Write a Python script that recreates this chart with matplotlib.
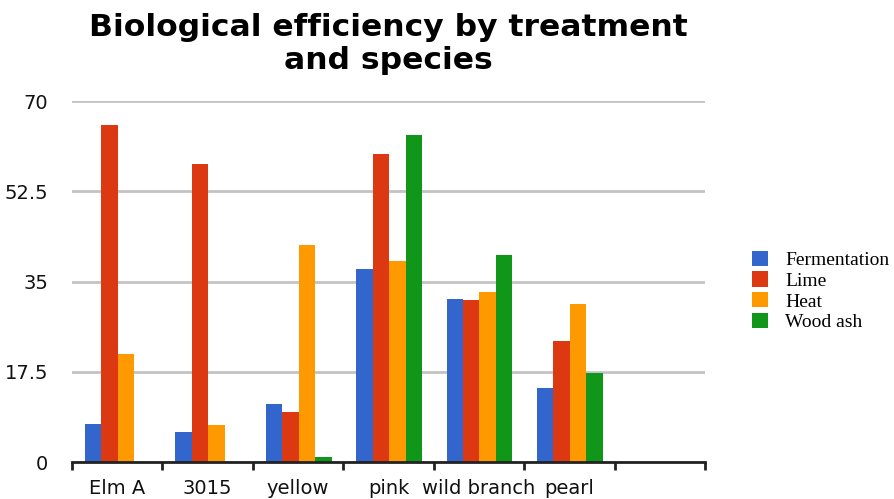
import matplotlib
matplotlib.use("Agg")
import matplotlib.pyplot as plt
import numpy as np
from matplotlib.patches import Patch

categories = ["Elm A", "3015", "yellow", "pink", "wild branch", "pearl", ""]
series_names = ["Fermentation", "Lime", "Heat", "Wood ash"]
fermentation = [7.3, 5.8, 11.3, 37.5, 31.7, 14.4]
lime = [65.4, 57.8, 9.7, 59.8, 31.5, 23.4]
heat = [20.9, 7.1, 42.1, 38.9, 32.9, 30.7]
wood_ash = [0.0, 0.0, 1.0, 63.5, 40.2, 17.2]
yticks = [0, 17.5, 35, 52.5, 70]
ytick_labels = ["0", "17.5", "35", "52.5", "70"]
colors = ["#3366CC", "#DC3912", "#FF9900", "#109618"]

fig = plt.figure(figsize=(8.95, 4.99), dpi=100)
ax = fig.add_axes([72/895, (499-462)/499, (705-72)/895, (462-101)/499])

values = [fermentation, lime, heat, wood_ash]
n = len(categories)
bw = 0.182
start = 0.142
idx = np.arange(len(fermentation))
for j, (vals, c) in enumerate(zip(values, colors)):
    ax.bar(idx + start + j*bw, vals, width=bw, align="edge", color=c,
           linewidth=0, zorder=3)

ax.set_xlim(0, n)
ax.set_ylim(0, 70)
ax.set_yticks(yticks)
ax.set_yticklabels(ytick_labels)
ax.yaxis.grid(True, color="#c3c3c3", linewidth=2, zorder=0)
ax.tick_params(axis="y", length=0, pad=17, labelsize=14, labelcolor="#111111")

ax.set_xticks(np.arange(n + 1))
ax.set_xticklabels([])
ax.set_xticks(np.arange(n) + 0.5, minor=True)
ax.set_xticklabels(categories, minor=True)
ax.tick_params(axis="x", which="major", length=6, width=2, color="#222222", direction="out")
ax.tick_params(axis="x", which="minor", length=0, pad=12, labelsize=14, labelcolor="#111111")

for s in ["left", "right", "top"]:
    ax.spines[s].set_visible(False)
ax.spines["bottom"].set_linewidth(2)
ax.spines["bottom"].set_color("#222222")
ax.spines["bottom"].set_zorder(4)

fig.text((72+705)/2/895, 1 - 44/499, "Biological efficiency by treatment\nand species",
         ha="center", va="center", fontsize=22.6, fontweight="bold",
         linespacing=1.16, family="DejaVu Sans")

handles = [Patch(facecolor=c, edgecolor="none") for c in colors]
leg = fig.legend(handles, series_names, loc="center left",
                 bbox_to_anchor=(752/895, 1 - 291/499), frameon=False,
                 prop={"family": "Liberation Serif", "size": 14},
                 handlelength=0.82, handleheight=0.82, handletextpad=0.88,
                 labelspacing=0.13, borderpad=0, borderaxespad=0)

fig.savefig("out.png", dpi=100)
